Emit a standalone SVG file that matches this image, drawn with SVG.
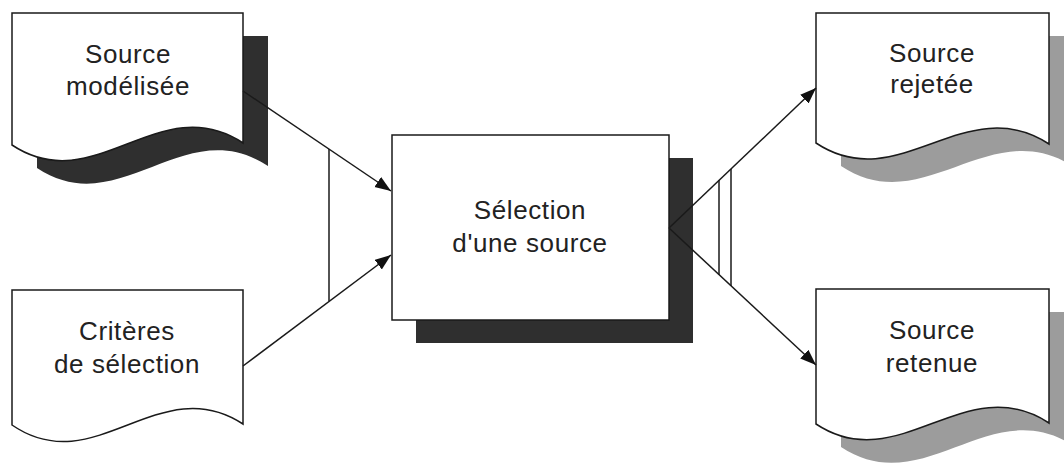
<svg xmlns="http://www.w3.org/2000/svg" width="1064" height="466" viewBox="0 0 1064 466">
<style>
.doc{fill:#fff;stroke:#1a1a1a;stroke-width:1.5}
.dark{fill:#2f2f2f}
.gray{fill:#9c9c9c}
.box{fill:#fff;stroke:#1a1a1a;stroke-width:1.5}
.lbl{font-family:"Liberation Sans",Arial,sans-serif;font-size:26px;fill:#222;text-anchor:middle;letter-spacing:0.6px}
.con{fill:none;stroke:#1a1a1a;stroke-width:1.5}
</style>
<defs>
<marker id="arr" markerUnits="userSpaceOnUse" markerWidth="18" markerHeight="14" refX="16" refY="6" orient="auto">
<path d="M0,0 L16,6 L0,12 Z" fill="#111"/>
</marker>
</defs>
<rect width="1064" height="466" fill="#fff"/>
<g id="source-modelisee">
<path class="dark" d="M37,36 H268 V166 C184,111 120,223 37,168 Z"/>
<path class="doc" d="M12,13 H243 V143 C159,88 95,200 12,145 Z"/>
<text class="lbl" x="128" y="63">Source</text>
<text class="lbl" x="128" y="95">modélisée</text>
</g>
<g id="criteres">
<path class="doc" d="M12,290 H243 V424 C159,369 95,482 12,425 Z"/>
<text class="lbl" x="127" y="340">Critères</text>
<text class="lbl" x="127" y="373">de sélection</text>
</g>
<g id="selection">
<rect class="dark" x="416" y="158" width="277" height="185"/>
<rect class="box" x="392" y="135" width="277" height="185"/>
<text class="lbl" x="530" y="219">Sélection</text>
<text class="lbl" x="530" y="252">d'une source</text>
</g>
<g id="source-rejetee">
<path class="gray" d="M841,36 H1074 V167 C990,112 924,221 841,166 Z"/>
<path class="doc" d="M816,13 H1049 V144 C965,89 899,198 816,143 Z"/>
<text class="lbl" x="932" y="62">Source</text>
<text class="lbl" x="932" y="93">rejetée</text>
</g>
<g id="source-retenue">
<path class="gray" d="M841,312 H1074 V446 C990,391 924,502 841,447 Z"/>
<path class="doc" d="M816,289 H1049 V423 C965,368 899,479 816,424 Z"/>
<text class="lbl" x="932" y="339">Source</text>
<text class="lbl" x="932" y="372">retenue</text>
</g>
<g id="connectors">
<line class="con" x1="243" y1="91" x2="391" y2="191" marker-end="url(#arr)"/>
<line class="con" x1="243" y1="366" x2="391" y2="255" marker-end="url(#arr)"/>
<line class="con" x1="329" y1="149" x2="329" y2="301"/>
<line class="con" x1="669" y1="228" x2="816" y2="88" marker-end="url(#arr)"/>
<line class="con" x1="669" y1="228" x2="816" y2="365" marker-end="url(#arr)"/>
<line class="con" x1="719" y1="180" x2="719" y2="275"/>
<line class="con" x1="731" y1="169" x2="731" y2="286"/>
</g>
</svg>
